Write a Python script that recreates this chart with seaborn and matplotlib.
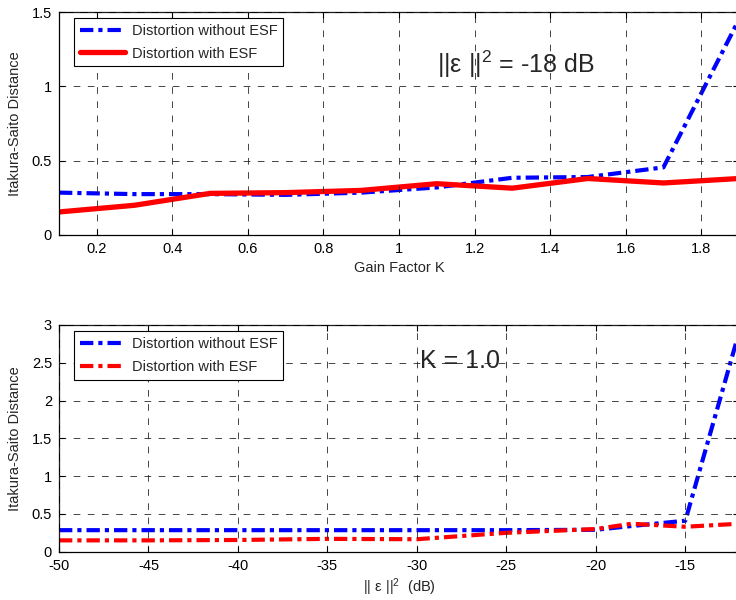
import matplotlib
matplotlib.use("Agg")
import matplotlib.pyplot as plt
import seaborn as sns
import pandas as pd

# ---------------- data ----------------
gain_k = [0.1, 0.3, 0.5, 0.7, 0.9, 1.1, 1.3, 1.5, 1.7, 1.9]
top_without = [0.285, 0.275, 0.275, 0.27, 0.285, 0.32, 0.385, 0.39, 0.455, 1.45]
top_with = [0.155, 0.20, 0.28, 0.285, 0.30, 0.345, 0.315, 0.38, 0.35, 0.38]

eps_db = [-50, -45, -40, -35, -30, -25, -20, -18, -15, -12]
bot_without = [0.285, 0.285, 0.285, 0.285, 0.285, 0.285, 0.29, 0.34, 0.41, 2.9]
bot_with = [0.15, 0.15, 0.155, 0.17, 0.165, 0.25, 0.30, 0.37, 0.33, 0.37]

series_names = ["Distortion without ESF", "Distortion with ESF"]

top_xticks = [0.2, 0.4, 0.6, 0.8, 1.0, 1.2, 1.4, 1.6, 1.8]
top_xticklabels = ["0.2", "0.4", "0.6", "0.8", "1", "1.2", "1.4", "1.6", "1.8"]
top_yticks = [0, 0.5, 1, 1.5]
top_yticklabels = ["0", "0.5", "1", "1.5"]

bot_xticks = [-50, -45, -40, -35, -30, -25, -20, -15]
bot_xticklabels = ["-50", "-45", "-40", "-35", "-30", "-25", "-20", "-15"]
bot_yticks = [0, 0.5, 1, 1.5, 2, 2.5, 3]
bot_yticklabels = ["0", "0.5", "1", "1.5", "2", "2.5", "3"]

# ---------------- style ----------------
sns.set_style("ticks")
plt.rcParams["font.family"] = ["Liberation Sans", "DejaVu Sans"]
plt.rcParams["mathtext.fontset"] = "custom"
plt.rcParams["mathtext.rm"] = "Liberation Sans"
plt.rcParams["mathtext.it"] = "Liberation Sans:italic"
plt.rcParams["mathtext.bf"] = "Liberation Sans:bold"

FS = 10.5
DASHDOT = (0, (3.2, 1.2, 1.0, 1.2))
LW = 3.0
BLUE = "#0000ff"
RED = "#ff0000"

W, H = 736, 600
fig = plt.figure(figsize=(W / 100, H / 100), dpi=100)

def px_axes(left, right, top, bottom):
    return fig.add_axes([left / W, 1 - bottom / H, (right - left) / W, (bottom - top) / H])

ax1 = px_axes(59, 739, 12, 235)
ax2 = px_axes(59, 739, 325, 551.7)

top_df = pd.DataFrame({"k": gain_k, "without": top_without, "with": top_with})
bot_df = pd.DataFrame({"e": eps_db, "without": bot_without, "with": bot_with})

sns.lineplot(data=top_df, x="k", y="without", ax=ax1, color=BLUE, lw=LW,
             linestyle=DASHDOT, label=series_names[0])
sns.lineplot(data=top_df, x="k", y="with", ax=ax1, color=RED, lw=LW + 0.8,
             linestyle="-", label=series_names[1])

sns.lineplot(data=bot_df, x="e", y="without", ax=ax2, color=BLUE, lw=LW,
             linestyle=DASHDOT, label=series_names[0])
sns.lineplot(data=bot_df, x="e", y="with", ax=ax2, color=RED, lw=LW,
             linestyle=DASHDOT, label=series_names[1])

ax1.set_xlim(0.1, 1.9)
ax1.set_ylim(0, 1.5)
ax2.set_xlim(-50, -12)
ax2.set_ylim(0, 3)

for ax, xt, xtl, yt, ytl in [
    (ax1, top_xticks, top_xticklabels, top_yticks, top_yticklabels),
    (ax2, bot_xticks, bot_xticklabels, bot_yticks, bot_yticklabels),
]:
    ax.set_xticks(xt)
    ax.set_xticklabels(xtl)
    ax.set_yticks(yt)
    ax.set_yticklabels(ytl)
    ax.tick_params(direction="in", top=True, right=True, length=4, width=0.8,
                   labelsize=FS, colors="black")
    ax.tick_params(axis="x", pad=5)
    ax.tick_params(axis="y", pad=5)
    for s in ax.spines.values():
        s.set_visible(True)
        s.set_linewidth(0.9)
        s.set_color("black")
    ax.set_axisbelow(False)
    ax.grid(True, color="0.15", linestyle=(0, (8, 9)), linewidth=0.6)
    ax.set_ylabel("Itakura-Saito Distance", fontsize=FS, labelpad=7)
    leg = ax.legend(loc="upper left", bbox_to_anchor=(15 / 680, 1 - 6 / 223),
                    borderaxespad=0, fontsize=FS, frameon=True, fancybox=False,
                    edgecolor="black", framealpha=1, handlelength=3.1,
                    handletextpad=0.45, labelspacing=0.6, borderpad=0.4)
    leg.get_frame().set_linewidth(0.8)

ax1.set_xlabel("Gain Factor K", fontsize=FS, labelpad=4)
ax2.set_xlabel(r"|| ε $||^{2}$  (dB)", fontsize=FS, labelpad=3)

ax1.text(1.1, 1.09, r"||ε $||^{2}$ = -18 dB", fontsize=18, ha="left",
         va="baseline", zorder=1)
ax2.text(-29.8, 2.43, "K = 1.0", fontsize=18, ha="left", va="baseline", zorder=1)

fig.savefig("out.png", dpi=100)
